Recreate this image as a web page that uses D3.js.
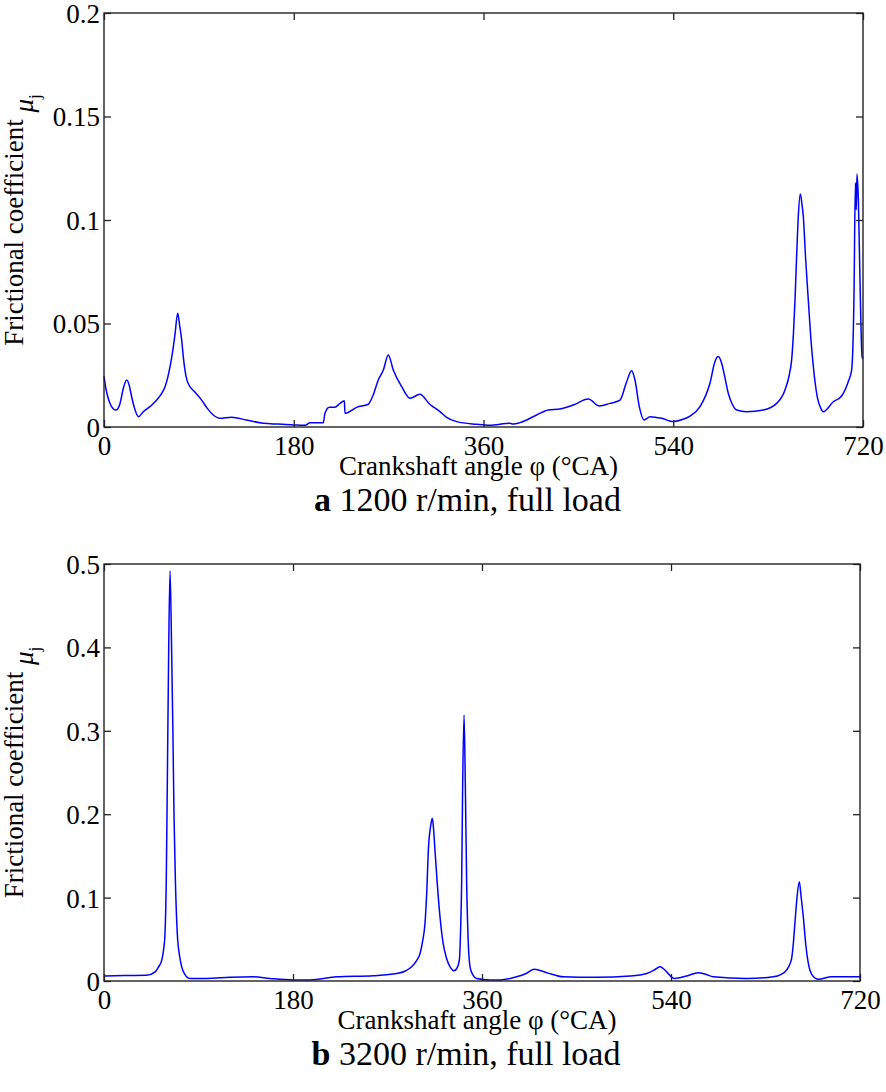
<!DOCTYPE html>
<html>
<head>
<meta charset="utf-8">
<script src="https://cdn.jsdelivr.net/npm/d3@7"></script>
<style>
  html, body { margin: 0; padding: 0; background: #fff; }
  svg { display: block; }
  text { font-family: "Liberation Serif", "Times New Roman", serif; fill: #000; }
</style>
</head>
<body>
<svg id="chart" width="886" height="1092"></svg>
<script>
// ---------------- data ----------------
const xTicks = [0, 180, 360, 540, 720];
const xTickLabels = ["0", "180", "360", "540", "720"];

const yTicksA = [0, 0.05, 0.1, 0.15, 0.2];
const yTickLabelsA = ["0", "0.05", "0.1", "0.15", "0.2"];
const yTicksB = [0, 0.1, 0.2, 0.3, 0.4, 0.5];
const yTickLabelsB = ["0", "0.1", "0.2", "0.3", "0.4", "0.5"];

// panel a: 1200 r/min, full load
const angleA = [0, 2, 4, 7, 11.4, 15, 18.5, 21.5, 24, 26.2, 29, 32.6, 37.3, 44, 50, 55, 57.9, 60.5, 62.6, 65,
  67.4, 69.9, 71.8, 73.7, 75.2, 76.8, 78.5, 80.6, 86, 92.6, 98, 103.7, 110, 121, 135, 151, 165, 179.6, 190.7, 195.4,
  208, 209.6, 213.8, 219, 223.9, 228, 228.6, 239.7, 250.7, 255, 260.2, 265, 269.7, 274.4, 282.4, 290.3, 299.7, 309, 318.7, 325,
  334.6, 353.5, 366, 385, 388.3, 394.6, 410.4, 421.4, 432.6, 445.2, 459.4, 469.9, 480, 489.5, 495.8, 500.5, 503.7, 507.8, 512.3, 518,
  529, 540, 548, 555.9, 565.4, 574.8, 579.6, 582.7, 585.9, 589, 592.2, 596, 600.2, 609.6, 625.4, 638.1, 646, 650, 652.3, 654,
  655.5, 657, 658.6, 660.5, 662, 663.4, 665.5, 668.1, 670.5, 672.9, 676.6, 680, 682.3, 691.8, 699.7, 706, 709.2, 711.4, 712.8, 713.6,
  714.3, 715.6, 717.2, 719.1, 720];
const muA = [0.0246, 0.018, 0.0139, 0.0100, 0.0082, 0.011, 0.019, 0.0227, 0.020, 0.0146, 0.009, 0.005, 0.0074, 0.0100, 0.013, 0.0165, 0.0195, 0.024, 0.029, 0.036,
  0.045, 0.055, 0.049, 0.042, 0.034, 0.0275, 0.023, 0.0203, 0.017, 0.013, 0.009, 0.0058, 0.0042, 0.0047, 0.0034, 0.0018, 0.0014, 0.0010, 0.0008, 0.0020,
  0.0020, 0.0066, 0.0095, 0.0095, 0.0114, 0.0127, 0.0066, 0.0095, 0.011, 0.015, 0.0227, 0.0275, 0.0348, 0.0275, 0.0195, 0.0139, 0.0158, 0.011, 0.0074, 0.0047,
  0.0026, 0.0013, 0.0008, 0.0018, 0.0014, 0.0021, 0.0058, 0.0082, 0.0087, 0.0106, 0.0135, 0.0101, 0.0114, 0.013, 0.0219, 0.0272, 0.0227, 0.0098, 0.0034, 0.005,
  0.0042, 0.0026, 0.0035, 0.0053, 0.0098, 0.0211, 0.0316, 0.034, 0.0308, 0.024, 0.0163, 0.011, 0.0082, 0.0074, 0.0082, 0.0114, 0.0179, 0.025, 0.0324, 0.045,
  0.0614, 0.082, 0.1016, 0.1126, 0.108, 0.1016, 0.082, 0.0614, 0.043, 0.0291, 0.0146, 0.009, 0.0074, 0.0122, 0.015, 0.0219, 0.0275, 0.0614, 0.118, 0.105,
  0.1222, 0.1097, 0.0694, 0.034, 0.033];

// panel b: 3200 r/min, full load
const angleB = [0, 20, 40.6, 48.6, 52, 55, 57, 58.1, 59.3, 60.3, 61.6, 62.9, 64.4, 65.6, 66.7, 68, 69.8, 72, 74, 77,
  81.9, 97.8, 120, 142.2, 158, 180.3, 196, 221.6, 256.5, 278.8, 287, 293, 298, 301, 303.5, 305.7, 307.5, 308.9, 311, 312.7,
  314, 315.2, 317.5, 320, 323, 326.3, 330, 333.3, 336, 338.4, 339.6, 340.6, 341.6, 342.9, 344.1, 345.4, 346.8, 348.6, 351, 354.9,
  367.6, 377, 393, 402, 409.8, 421.6, 437.4, 469.2, 501, 516.9, 524, 529.5, 532.5, 535.9, 543.2, 554.9, 566, 573, 580.3, 612,
  637.4, 645, 648.6, 652, 654.9, 656.5, 658, 660, 662.2, 664, 666, 668.5, 670.8, 674, 680.3, 693, 720];
const muB = [0.006, 0.0065, 0.0068, 0.011, 0.017, 0.025, 0.040, 0.057, 0.12, 0.237, 0.397, 0.492, 0.397, 0.30, 0.197, 0.12, 0.057, 0.030, 0.017, 0.008,
  0.003, 0.003, 0.0044, 0.005, 0.003, 0.0012, 0.0012, 0.005, 0.0064, 0.009, 0.012, 0.017, 0.025, 0.033, 0.048, 0.069, 0.11, 0.157, 0.185, 0.195,
  0.18, 0.157, 0.115, 0.077, 0.045, 0.027, 0.016, 0.0124, 0.015, 0.025, 0.06, 0.117, 0.237, 0.319, 0.237, 0.117, 0.05, 0.017, 0.008, 0.003,
  0.0012, 0.0012, 0.005, 0.009, 0.014, 0.010, 0.005, 0.0044, 0.006, 0.009, 0.013, 0.017, 0.015, 0.011, 0.003, 0.006, 0.010, 0.008, 0.005, 0.003,
  0.005, 0.008, 0.011, 0.017, 0.027, 0.045, 0.069, 0.100, 0.119, 0.100, 0.077, 0.042, 0.021, 0.008, 0.002, 0.005, 0.005];

const xTitle = "Crankshaft angle \u03C6 (\u00B0CA)";
const yTitle = "Frictional coefficient ";
const captionA = ["a", " 1200 r/min, full load"];
const captionB = ["b", " 3200 r/min, full load"];

// ---------------- drawing ----------------
const svg = d3.select("#chart");
svg.append("rect").attr("width", 886).attr("height", 1092).attr("fill", "#fff");
const SERIF = "'Liberation Serif', 'Times New Roman', serif";

function drawPanel(opt) {
  const { left, right, top, bottom, yMax, yTicks, yLabels, angles, mus, caption } = opt;
  const x = d3.scaleLinear().domain([0, 720]).range([left, right]);
  const y = d3.scaleLinear().domain([0, yMax]).range([bottom, top]);
  const g = svg.append("g").attr("font-family", SERIF);
  const tickLen = 7;
  const tickFont = 27;

  // curve
  const pts = angles.map((a, i) => [a, mus[i]]);
  const line = d3.line().x(d => x(d[0])).y(d => y(d[1])).curve(d3.curveMonotoneX);
  g.append("path").datum(pts).attr("d", line)
    .attr("fill", "none").attr("stroke", "#0000ff").attr("stroke-width", 1.5)
    .attr("stroke-linejoin", "round");

  // axes
  const axB = g.append("g").attr("transform", `translate(0,${bottom})`)
    .call(d3.axisBottom(x).tickValues(xTicks).tickFormat((d, i) => xTickLabels[i])
      .tickSizeInner(-tickLen).tickSizeOuter(0));
  axB.attr("font-family", SERIF);
  axB.selectAll("text").attr("y", 27.5).attr("dy", 0)
    .style("font-size", tickFont + "px").style("font-family", SERIF);
  const axT = g.append("g").attr("transform", `translate(0,${top})`)
    .call(d3.axisTop(x).tickValues(xTicks).tickFormat("").tickSizeInner(-tickLen).tickSizeOuter(0));
  const axL = g.append("g").attr("transform", `translate(${left},0)`)
    .call(d3.axisLeft(y).tickValues(yTicks).tickFormat((d, i) => yLabels[i])
      .tickSizeInner(-tickLen).tickSizeOuter(0));
  axL.attr("font-family", SERIF);
  axL.selectAll("text").attr("x", -4).attr("dy", "0.35em")
    .style("font-size", tickFont + "px").style("font-family", SERIF);
  const axR = g.append("g").attr("transform", `translate(${right},0)`)
    .call(d3.axisRight(y).tickValues(yTicks).tickFormat("").tickSizeInner(-tickLen).tickSizeOuter(0));
  [axB, axT, axL, axR].forEach(a => {
    a.select(".domain").remove();
    a.selectAll(".tick line").attr("stroke", "#222").attr("stroke-width", 1.3);
  });

  // frame
  g.append("rect").attr("x", left).attr("y", top)
    .attr("width", right - left).attr("height", bottom - top)
    .attr("fill", "none").attr("stroke", "#222").attr("stroke-width", 1.4);

  // x title
  g.append("text").attr("x", (left + right) / 2 - 5).attr("y", bottom + 47.5)
    .attr("text-anchor", "middle").style("font-size", "27px").text(xTitle);

  // y title
  const cy = (top + bottom) / 2;
  const yt = g.append("text")
    .attr("transform", `translate(23,${cy}) rotate(-90)`)
    .attr("text-anchor", "middle").style("font-size", "27px");
  yt.append("tspan").text(yTitle);
  yt.append("tspan").attr("dy", 10).style("font-style", "italic").text("\u03BC");
  yt.append("tspan").attr("dy", 7).style("font-size", "17px").text("j");

  // caption
  const ct = g.append("text").attr("x", (left + right) / 2 - 16).attr("y", bottom + 84)
    .attr("text-anchor", "middle").style("font-size", "34px");
  ct.append("tspan").style("font-weight", "bold").text(caption[0]);
  ct.append("tspan").text(caption[1]);
}

drawPanel({ left: 104, right: 863, top: 13, bottom: 427, yMax: 0.2,
  yTicks: yTicksA, yLabels: yTickLabelsA, angles: angleA, mus: muA, caption: captionA });
drawPanel({ left: 104, right: 860, top: 564, bottom: 981, yMax: 0.5,
  yTicks: yTicksB, yLabels: yTickLabelsB, angles: angleB, mus: muB, caption: captionB });
</script>
</body>
</html>
